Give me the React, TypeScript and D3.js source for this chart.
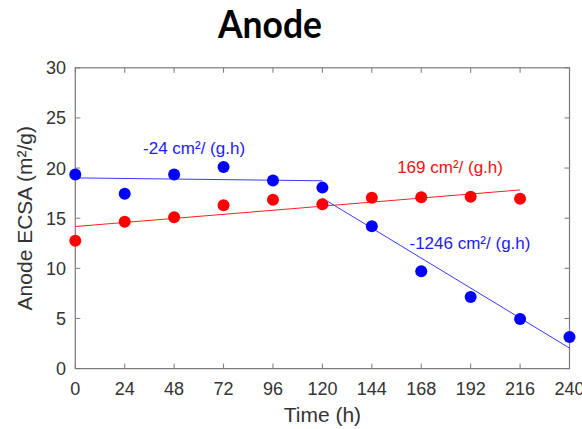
import React from "react";
import * as d3 from "d3";

const times = [0, 24, 48, 72, 96, 120, 144, 168, 192, 216, 240];
const blueValues = [19.35, 17.45, 19.35, 20.1, 18.75, 18.05, 14.2, 9.7, 7.15, 4.95, 3.15];
const redTimes = [0, 24, 48, 72, 96, 120, 144, 168, 192, 216];
const redValues = [12.75, 14.65, 15.1, 16.3, 16.85, 16.4, 17.05, 17.1, 17.15, 16.95];

// fit segments: [startTime, endTime, valueAtStart, slope per hour]
const fitStart = [0, 120, 0];
const fitEnd = [120, 240, 216];
const fitIntercept = [19.02, 17.0, 14.17];
const fitSlope = [-0.0024, -0.1246, 0.0169];
const fitSeries = ["blue", "blue", "red"];

const annotationText = ["-24 cm²/ (g.h)", "169 cm²/ (g.h)", "-1246 cm²/ (g.h)"];
const annotationTime = [32.9, 156.3, 162.3];
const annotationValue = [21.4, 19.5, 11.9];
const annotationSeries = ["blue", "red", "blue"];

const xTicks = [0, 24, 48, 72, 96, 120, 144, 168, 192, 216, 240];
const yTicks = [0, 5, 10, 15, 20, 25, 30];

const W = 582;
const H = 429;
const L = 75.3, R = 569.5, T = 67.8, B = 368.6;

const colors: Record<string, { dot: string; line: string; text: string }> = {
  blue: { dot: "#0000ff", line: "#3a3aff", text: "#1c1cf0" },
  red: { dot: "#ff0000", line: "#ff2020", text: "#ee1111" },
};

export default function App() {
  const x = d3.scaleLinear().domain([0, 240]).range([L, R]);
  const y = d3.scaleLinear().domain([0, 30]).range([B, T]);
  const axisColor = "#7a7a7a";
  const font = "Arial, 'Liberation Sans', sans-serif";
  const line = d3.line<[number, number]>().x((d) => x(d[0])).y((d) => y(d[1]));

  return (
    <svg width={W} height={H} style={{ position: "absolute", left: 0, top: 0, background: "#fff" }}>
      <text
        x={270}
        y={38}
        textAnchor="middle"
        fontFamily="Lato, 'Open Sans', sans-serif"
        fontWeight={700}
        fontSize={39}
        textLength={104}
        lengthAdjust="spacingAndGlyphs"
        fill="#000"
      >
        Anode
      </text>

      {/* frame */}
      <rect x={L} y={T} width={R - L} height={B - T} fill="none" stroke={axisColor} strokeWidth={1.2} />
      {xTicks.map((t) => (
        <g key={"xt" + t}>
          <line x1={x(t)} x2={x(t)} y1={B} y2={B - 5} stroke={axisColor} strokeWidth={1} />
          <line x1={x(t)} x2={x(t)} y1={T} y2={T + 5} stroke={axisColor} strokeWidth={1} />
          <text x={x(t)} y={395} textAnchor="middle" fontFamily={font} fontSize={18} fill="#333">
            {t}
          </text>
        </g>
      ))}
      {yTicks.map((t) => (
        <g key={"yt" + t}>
          <line x1={L} x2={L + 5} y1={y(t)} y2={y(t)} stroke={axisColor} strokeWidth={1} />
          <line x1={R} x2={R - 5} y1={y(t)} y2={y(t)} stroke={axisColor} strokeWidth={1} />
          <text x={66} y={y(t) + 6.5} textAnchor="end" fontFamily={font} fontSize={18} fill="#333">
            {t}
          </text>
        </g>
      ))}

      <text x={(L + R) / 2} y={422} textAnchor="middle" fontFamily={font} fontSize={21} fill="#333">
        Time (h)
      </text>
      <text
        transform={`translate(32, ${(T + B) / 2}) rotate(-90)`}
        textAnchor="middle"
        fontFamily={font}
        fontSize={21}
        fill="#333"
      >
        Anode ECSA (m²/g)
      </text>

      {/* fit lines */}
      {fitStart.map((s, i) => {
        const e = fitEnd[i];
        const pts: [number, number][] = [
          [s, fitIntercept[i]],
          [e, fitIntercept[i] + fitSlope[i] * (e - s)],
        ];
        return (
          <path key={"fit" + i} d={line(pts) || ""} fill="none" stroke={colors[fitSeries[i]].line} strokeWidth={1} />
        );
      })}

      {/* points */}
      {redTimes.map((t, i) => (
        <circle key={"r" + i} cx={x(t)} cy={y(redValues[i])} r={6} fill={colors.red.dot} />
      ))}
      {times.map((t, i) => (
        <circle key={"b" + i} cx={x(t)} cy={y(blueValues[i])} r={6} fill={colors.blue.dot} />
      ))}

      {annotationText.map((s, i) => (
        <text
          key={"a" + i}
          x={x(annotationTime[i])}
          y={y(annotationValue[i])}
          fontFamily={font}
          fontSize={17}
          fill={colors[annotationSeries[i]].text}
        >
          {s}
        </text>
      ))}
    </svg>
  );
}
